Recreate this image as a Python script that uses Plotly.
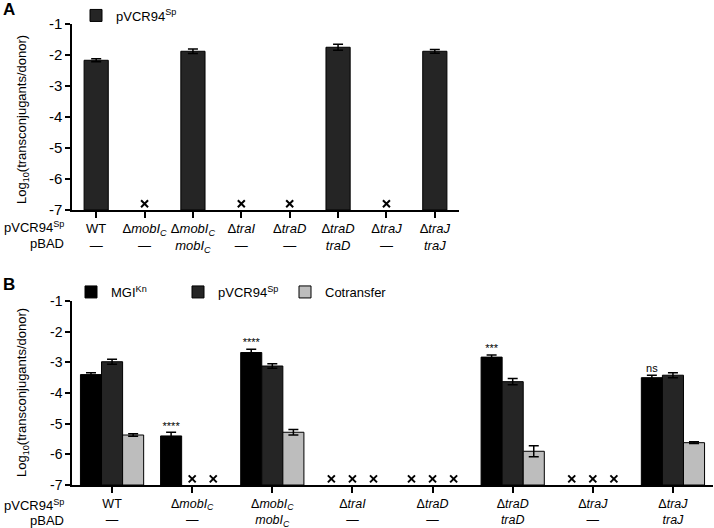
import plotly.graph_objects as go

# ---------------- data ----------------
strain_labels = ["WT", "Δ<i>mobI</i><sub><i>C</i></sub>", "Δ<i>mobI</i><sub><i>C</i></sub>",
                 "Δ<i>traI</i>", "Δ<i>traD</i>", "Δ<i>traD</i>", "Δ<i>traJ</i>", "Δ<i>traJ</i>"]
pbad_labels = ["—", "—", "<i>mobI</i><sub><i>C</i></sub>", "—", "—", "<i>traD</i>", "—", "<i>traJ</i>"]
y_tick_vals = [-1, -2, -3, -4, -5, -6, -7]
y_tick_text = ["-1", "-2", "-3", "-4", "-5", "-6", "-7"]

# Panel A: pVCR94Sp transfer
a_pvcr = [-2.17, None, -1.88, None, None, -1.75, None, -1.88]
a_pvcr_err = [0.05, 0, 0.07, 0, 0, 0.10, 0, 0.06]

# Panel B
b_mgi = [-3.40, -5.40, -2.68, None, None, -2.83, None, -3.50]
b_mgi_err = [0.06, 0.12, 0.11, 0, 0, 0.07, 0, 0.08]
b_pvcr = [-2.98, None, -3.12, None, None, -3.63, None, -3.42]
b_pvcr_err = [0.08, 0, 0.07, 0, 0, 0.10, 0, 0.08]
b_cot = [-5.37, None, -5.28, None, None, -5.90, None, -5.62]
b_cot_err = [0.04, 0, 0.09, 0, 0, 0.18, 0, 0.03]
b_sig = [None, "****", "****", None, None, "***", None, "ns"]

Y_MIN, Y_MAX = -7, -1
ND_Y = -6.8  # level where "not detected" crosses are drawn

# ---------------- helpers ----------------
W, H = 714, 528
def px_x(p): return p / W
def px_y(p): return 1 - p / H

FONT = "Liberation Sans, Arial, sans-serif"
NARROW = "Liberation Sans Narrow, Arial Narrow, Liberation Sans, Arial, sans-serif"

ticktext = [f"{s}<br>{p}" for s, p in zip(strain_labels, pbad_labels)]
xs = list(range(len(strain_labels)))

fig = go.Figure()

# ---- Panel A ----
fig.add_trace(go.Bar(
    x=xs, y=[None if v is None else v - Y_MIN for v in a_pvcr], base=Y_MIN,
    width=0.5, marker=dict(color="#252525", line=dict(color="black", width=1)),
    error_y=dict(type="data", array=a_pvcr_err, color="black", thickness=1.5, width=5),
    name="pVCR94<sup>Sp</sup>", xaxis="x", yaxis="y", legend="legend"))
nd_x = [x for x, v in zip(xs, a_pvcr) if v is None]
fig.add_trace(go.Scatter(
    x=nd_x, y=[ND_Y] * len(nd_x), mode="markers", showlegend=False,
    marker=dict(symbol="x-thin", size=7, line=dict(width=2, color="black")),
    xaxis="x", yaxis="y", hoverinfo="skip"))

# ---- Panel B ----
bw = 0.263
series = [
    ("MGI<sup>Kn</sup>", b_mgi, b_mgi_err, "#000000"),
    ("pVCR94<sup>Sp</sup>", b_pvcr, b_pvcr_err, "#252525"),
    ("Cotransfer", b_cot, b_cot_err, "#bdbdbd"),
]
for k, (name, vals, errs, col) in enumerate(series):
    off = (k - 1.5) * bw
    fig.add_trace(go.Bar(
        x=xs, y=[None if v is None else v - Y_MIN for v in vals], base=Y_MIN,
        width=bw, offset=off,
        marker=dict(color=col, line=dict(color="black", width=1)),
        error_y=dict(type="data", array=errs, color="black", thickness=1.5, width=5),
        name=name, xaxis="x2", yaxis="y2", legend="legend2"))
    ndx = [x + (k - 1) * bw for x, v in zip(xs, vals) if v is None]
    fig.add_trace(go.Scatter(
        x=ndx, y=[ND_Y] * len(ndx), mode="markers", showlegend=False,
        marker=dict(symbol="x-thin", size=7, line=dict(width=2, color="black")),
        xaxis="x2", yaxis="y2", hoverinfo="skip"))

# significance labels above MGI bars
sx, sy, st = [], [], []
for x, v, e, s in zip(xs, b_mgi, b_mgi_err, b_sig):
    if s:
        sx.append(x - bw); sy.append(v + e); st.append(s)
fig.add_trace(go.Scatter(
    x=sx, y=sy, text=st, mode="text", textposition="top center",
    textfont=dict(family=NARROW, size=11, color="black"),
    showlegend=False, xaxis="x2", yaxis="y2", hoverinfo="skip"))

axis_common = dict(showline=True, linecolor="black", linewidth=1.5, ticks="outside",
                   tickcolor="black", tickwidth=1.5, showgrid=False, zeroline=False,
                   automargin=False)

fig.update_layout(
    width=W, height=H, margin=dict(l=0, r=0, t=0, b=0),
    paper_bgcolor="white", plot_bgcolor="white",
    showlegend=True, barmode="overlay",
    xaxis=dict(domain=[px_x(72), px_x(459)], range=[-0.5, 7.5], tickvals=xs, ticktext=ticktext,
               ticklen=6, tickfont=dict(family=FONT, size=13, color="black"), anchor="y",
               **axis_common),
    yaxis=dict(domain=[px_y(210), px_y(24)], range=[Y_MIN, Y_MAX],
               tickvals=y_tick_vals, ticktext=y_tick_text, ticklen=5,
               tickfont=dict(family=FONT, size=15, color="black"), anchor="x", **axis_common),
    xaxis2=dict(domain=[px_x(72), px_x(713)], range=[-0.5, 7.5], tickvals=xs, ticktext=ticktext,
                ticklen=6, tickfont=dict(family=NARROW, size=12.5, color="black"), anchor="y2",
                **axis_common),
    yaxis2=dict(domain=[px_y(485), px_y(301)], range=[Y_MIN, Y_MAX],
                tickvals=y_tick_vals, ticktext=y_tick_text, ticklen=5,
                tickfont=dict(family=NARROW, size=14, color="black"), anchor="x2", **axis_common),
    legend=dict(x=px_x(76), y=px_y(15.5), xanchor="left", yanchor="middle",
                font=dict(family=FONT, size=13, color="black"), bgcolor="rgba(0,0,0,0)"),
    legend2=dict(x=px_x(71), y=px_y(292), xanchor="left", yanchor="middle",
                 orientation="h", entrywidth=62, entrywidthmode="pixels",
                 font=dict(family=NARROW, size=13, color="black"), bgcolor="rgba(0,0,0,0)"),
)

ann = [
    dict(text="<b>A</b>", x=px_x(1), y=px_y(9), xanchor="left", yanchor="middle",
         font=dict(family=FONT, size=17, color="black")),
    dict(text="<b>B</b>", x=px_x(1), y=px_y(284), xanchor="left", yanchor="middle",
         font=dict(family=FONT, size=17, color="black")),
    dict(text="Log<sub>10</sub>(transconjugants/donor)", x=px_x(22), y=px_y(120),
         textangle=-90, xanchor="center", yanchor="middle",
         font=dict(family=FONT, size=13, color="black")),
    dict(text="Log<sub>10</sub>(transconjugants/donor)", x=px_x(22), y=px_y(393),
         textangle=-90, xanchor="center", yanchor="middle",
         font=dict(family=NARROW, size=13, color="black")),
    dict(text="pVCR94<sup>Sp</sup>", x=px_x(66), y=px_y(227), xanchor="right", yanchor="middle",
         font=dict(family=FONT, size=13, color="black")),
    dict(text="pBAD", x=px_x(66), y=px_y(243), xanchor="right", yanchor="middle",
         font=dict(family=FONT, size=13, color="black")),
    dict(text="pVCR94<sup>Sp</sup>", x=px_x(66), y=px_y(505), xanchor="right", yanchor="middle",
         font=dict(family=NARROW, size=13, color="black")),
    dict(text="pBAD", x=px_x(66), y=px_y(520), xanchor="right", yanchor="middle",
         font=dict(family=NARROW, size=13, color="black")),
]
for a in ann:
    a.update(xref="paper", yref="paper", showarrow=False)
fig.update_layout(annotations=ann)

fig.write_html("out.html", config={"displayModeBar": False},
               post_script="document.body.style.margin='0';")
